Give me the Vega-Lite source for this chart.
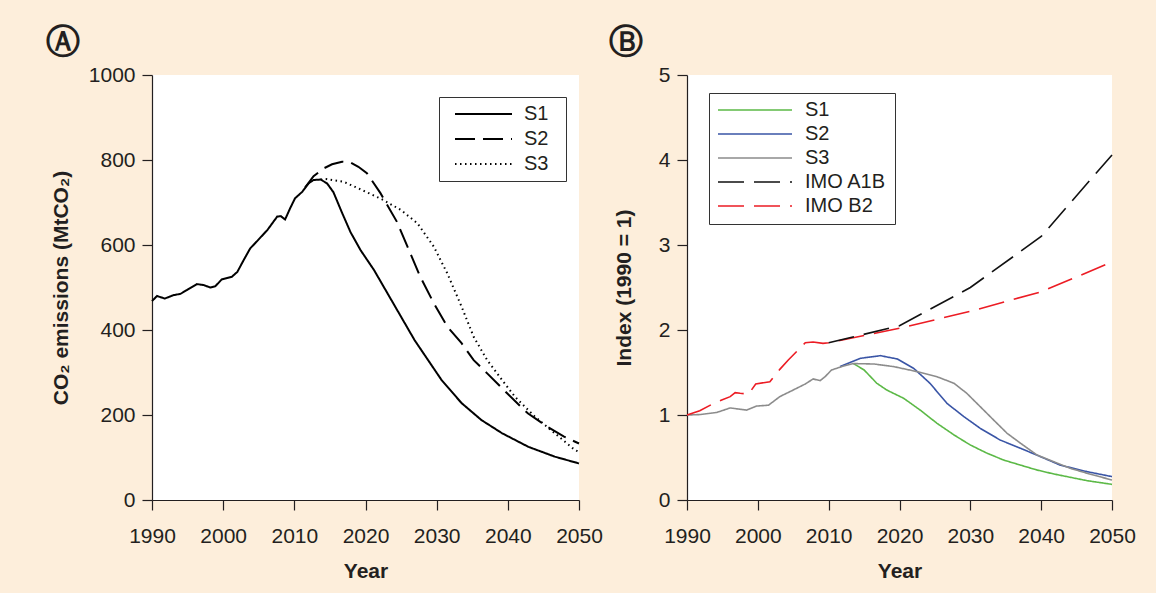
{
  "$schema": "https://vega.github.io/schema/vega-lite/v6.json",
  "background": "#fdeedb",
  "padding": {"left": 46, "top": 26, "right": 20, "bottom": 12},
  "spacing": 6,
  "config": {
    "view": {"fill": "white", "stroke": null},
    "font": "Liberation Sans",
    "axis": {
      "domainColor": "#231f20", "tickColor": "#231f20", "labelColor": "#231f20", "titleColor": "#231f20",
      "labelFont": "Liberation Sans", "titleFont": "Liberation Sans",
      "labelFontSize": 21, "titleFontSize": 21, "titleFontWeight": "bold",
      "tickSize": 10, "grid": false, "labelFlush": false, "labelOverlap": false, "domainWidth": 1.2, "tickWidth": 1.2
    },
    "legend": {
      "labelFont": "Liberation Sans", "labelFontSize": 20, "labelColor": "#231f20",
      "strokeColor": "#333333", "fillColor": "white", "symbolType": "stroke"
    },
    "title": {"anchor": "start", "frame": "bounds", "font": "DejaVu Sans", "fontSize": 34, "fontWeight": "bold", "color": "#231f20", "offset": 10, "dx": -4, "dy": 6}
  },
  "datasets": {
    "a": [
      {"series": "S1", "year": 1990, "value": 468},
      {"series": "S1", "year": 1990.7, "value": 480},
      {"series": "S1", "year": 1991.8, "value": 474},
      {"series": "S1", "year": 1993, "value": 482},
      {"series": "S1", "year": 1994, "value": 485},
      {"series": "S1", "year": 1994.9, "value": 494},
      {"series": "S1", "year": 1996.3, "value": 508},
      {"series": "S1", "year": 1997.2, "value": 506},
      {"series": "S1", "year": 1998.2, "value": 500},
      {"series": "S1", "year": 1998.9, "value": 503},
      {"series": "S1", "year": 1999.8, "value": 519},
      {"series": "S1", "year": 2001.2, "value": 525},
      {"series": "S1", "year": 2002, "value": 537},
      {"series": "S1", "year": 2002.9, "value": 565},
      {"series": "S1", "year": 2003.8, "value": 592},
      {"series": "S1", "year": 2004.7, "value": 608},
      {"series": "S1", "year": 2006.2, "value": 635},
      {"series": "S1", "year": 2007.6, "value": 667},
      {"series": "S1", "year": 2008.1, "value": 668},
      {"series": "S1", "year": 2008.7, "value": 660},
      {"series": "S1", "year": 2009.4, "value": 686},
      {"series": "S1", "year": 2010.1, "value": 710},
      {"series": "S1", "year": 2011.1, "value": 725},
      {"series": "S1", "year": 2012, "value": 745},
      {"series": "S1", "year": 2012.7, "value": 753},
      {"series": "S1", "year": 2013.7, "value": 754},
      {"series": "S1", "year": 2014.6, "value": 745},
      {"series": "S1", "year": 2015.5, "value": 724},
      {"series": "S1", "year": 2016.7, "value": 676},
      {"series": "S1", "year": 2017.9, "value": 630},
      {"series": "S1", "year": 2019.3, "value": 588},
      {"series": "S1", "year": 2021.2, "value": 541},
      {"series": "S1", "year": 2023.1, "value": 486},
      {"series": "S1", "year": 2025, "value": 431},
      {"series": "S1", "year": 2026.9, "value": 376},
      {"series": "S1", "year": 2028.8, "value": 329},
      {"series": "S1", "year": 2030.7, "value": 282},
      {"series": "S1", "year": 2033.5, "value": 228},
      {"series": "S1", "year": 2036.3, "value": 188},
      {"series": "S1", "year": 2039.2, "value": 157},
      {"series": "S1", "year": 2042.9, "value": 125},
      {"series": "S1", "year": 2046.6, "value": 102},
      {"series": "S1", "year": 2050, "value": 86},
      {"series": "S2", "year": 2011.5, "value": 735},
      {"series": "S2", "year": 2012.7, "value": 762},
      {"series": "S2", "year": 2014.1, "value": 780},
      {"series": "S2", "year": 2015.3, "value": 790},
      {"series": "S2", "year": 2016.7, "value": 796},
      {"series": "S2", "year": 2017.9, "value": 794},
      {"series": "S2", "year": 2019, "value": 784},
      {"series": "S2", "year": 2020.2, "value": 769},
      {"series": "S2", "year": 2022.1, "value": 722},
      {"series": "S2", "year": 2024.4, "value": 655},
      {"series": "S2", "year": 2025.9, "value": 596},
      {"series": "S2", "year": 2027.7, "value": 525},
      {"series": "S2", "year": 2029.6, "value": 463},
      {"series": "S2", "year": 2031.5, "value": 408},
      {"series": "S2", "year": 2033.5, "value": 369},
      {"series": "S2", "year": 2035.2, "value": 329},
      {"series": "S2", "year": 2037.1, "value": 298},
      {"series": "S2", "year": 2039.9, "value": 251},
      {"series": "S2", "year": 2042.8, "value": 204},
      {"series": "S2", "year": 2045.6, "value": 172},
      {"series": "S2", "year": 2047.9, "value": 149},
      {"series": "S2", "year": 2050, "value": 133},
      {"series": "S3", "year": 2013.7, "value": 754},
      {"series": "S3", "year": 2014.6, "value": 755},
      {"series": "S3", "year": 2016.9, "value": 749},
      {"series": "S3", "year": 2019.3, "value": 731},
      {"series": "S3", "year": 2022.5, "value": 706},
      {"series": "S3", "year": 2025, "value": 682},
      {"series": "S3", "year": 2027.3, "value": 651},
      {"series": "S3", "year": 2029.6, "value": 596},
      {"series": "S3", "year": 2031.5, "value": 533},
      {"series": "S3", "year": 2033.5, "value": 455},
      {"series": "S3", "year": 2035.2, "value": 384},
      {"series": "S3", "year": 2037.1, "value": 329},
      {"series": "S3", "year": 2039.2, "value": 282},
      {"series": "S3", "year": 2041, "value": 243},
      {"series": "S3", "year": 2043.8, "value": 196},
      {"series": "S3", "year": 2046.6, "value": 157},
      {"series": "S3", "year": 2049.4, "value": 118},
      {"series": "S3", "year": 2050, "value": 113}
    ],
    "b": [
      {"series": "S1", "year": 2013.5, "value": 1.605},
      {"series": "S1", "year": 2015, "value": 1.53},
      {"series": "S1", "year": 2016.8, "value": 1.373},
      {"series": "S1", "year": 2018.2, "value": 1.294},
      {"series": "S1", "year": 2020.6, "value": 1.196},
      {"series": "S1", "year": 2022.9, "value": 1.059},
      {"series": "S1", "year": 2025.3, "value": 0.902},
      {"series": "S1", "year": 2027.7, "value": 0.765},
      {"series": "S1", "year": 2030, "value": 0.647},
      {"series": "S1", "year": 2032.4, "value": 0.549},
      {"series": "S1", "year": 2034.7, "value": 0.47},
      {"series": "S1", "year": 2037.1, "value": 0.41},
      {"series": "S1", "year": 2039.4, "value": 0.353},
      {"series": "S1", "year": 2041.8, "value": 0.306},
      {"series": "S1", "year": 2046.5, "value": 0.227},
      {"series": "S1", "year": 2050, "value": 0.184},
      {"series": "S2", "year": 2011.6, "value": 1.57},
      {"series": "S2", "year": 2014.5, "value": 1.667},
      {"series": "S2", "year": 2017.3, "value": 1.698},
      {"series": "S2", "year": 2019.7, "value": 1.659},
      {"series": "S2", "year": 2022, "value": 1.549},
      {"series": "S2", "year": 2024.3, "value": 1.373},
      {"series": "S2", "year": 2026.7, "value": 1.137},
      {"series": "S2", "year": 2029.1, "value": 0.98},
      {"series": "S2", "year": 2031.4, "value": 0.843},
      {"series": "S2", "year": 2034.2, "value": 0.706},
      {"series": "S2", "year": 2037.1, "value": 0.608},
      {"series": "S2", "year": 2039.9, "value": 0.51},
      {"series": "S2", "year": 2042.7, "value": 0.41},
      {"series": "S2", "year": 2046.5, "value": 0.333},
      {"series": "S2", "year": 2050, "value": 0.275},
      {"series": "S3", "year": 1990, "value": 1.0},
      {"series": "S3", "year": 1991.8, "value": 1.005},
      {"series": "S3", "year": 1994.2, "value": 1.03},
      {"series": "S3", "year": 1996.1, "value": 1.083},
      {"series": "S3", "year": 1997.3, "value": 1.07},
      {"series": "S3", "year": 1998.4, "value": 1.058},
      {"series": "S3", "year": 1999.8, "value": 1.105},
      {"series": "S3", "year": 2001.5, "value": 1.115},
      {"series": "S3", "year": 2003.1, "value": 1.216},
      {"series": "S3", "year": 2005, "value": 1.294},
      {"series": "S3", "year": 2006.7, "value": 1.365},
      {"series": "S3", "year": 2007.8, "value": 1.424},
      {"series": "S3", "year": 2008.8, "value": 1.404},
      {"series": "S3", "year": 2009.5, "value": 1.451},
      {"series": "S3", "year": 2010.4, "value": 1.529},
      {"series": "S3", "year": 2012.1, "value": 1.576},
      {"series": "S3", "year": 2013.5, "value": 1.605},
      {"series": "S3", "year": 2016.4, "value": 1.6},
      {"series": "S3", "year": 2019.2, "value": 1.569},
      {"series": "S3", "year": 2022.5, "value": 1.51},
      {"series": "S3", "year": 2025.3, "value": 1.45},
      {"series": "S3", "year": 2027.7, "value": 1.373},
      {"series": "S3", "year": 2029.5, "value": 1.255},
      {"series": "S3", "year": 2031.4, "value": 1.098},
      {"series": "S3", "year": 2033.3, "value": 0.94},
      {"series": "S3", "year": 2035.2, "value": 0.784},
      {"series": "S3", "year": 2037.1, "value": 0.667},
      {"series": "S3", "year": 2039.4, "value": 0.53},
      {"series": "S3", "year": 2041.8, "value": 0.45},
      {"series": "S3", "year": 2044.1, "value": 0.373},
      {"series": "S3", "year": 2046.5, "value": 0.314},
      {"series": "S3", "year": 2050, "value": 0.235},
      {"series": "IMO B2", "year": 1990, "value": 1.0},
      {"series": "IMO B2", "year": 1991.8, "value": 1.05},
      {"series": "IMO B2", "year": 1993.5, "value": 1.125},
      {"series": "IMO B2", "year": 1994.9, "value": 1.176},
      {"series": "IMO B2", "year": 1996.1, "value": 1.216},
      {"series": "IMO B2", "year": 1996.8, "value": 1.263},
      {"series": "IMO B2", "year": 1997.5, "value": 1.255},
      {"series": "IMO B2", "year": 1998.7, "value": 1.247},
      {"series": "IMO B2", "year": 1999.7, "value": 1.365},
      {"series": "IMO B2", "year": 2001.7, "value": 1.392},
      {"series": "IMO B2", "year": 2003.1, "value": 1.537},
      {"series": "IMO B2", "year": 2004.3, "value": 1.647},
      {"series": "IMO B2", "year": 2006.7, "value": 1.851},
      {"series": "IMO B2", "year": 2007.8, "value": 1.859},
      {"series": "IMO B2", "year": 2009.2, "value": 1.843},
      {"series": "IMO B2", "year": 2010, "value": 1.85},
      {"series": "IMO B2", "year": 2020, "value": 2.02},
      {"series": "IMO B2", "year": 2030, "value": 2.22},
      {"series": "IMO B2", "year": 2040, "value": 2.45},
      {"series": "IMO B2", "year": 2050, "value": 2.8},
      {"series": "IMO A1B", "year": 2010, "value": 1.85},
      {"series": "IMO A1B", "year": 2020, "value": 2.05},
      {"series": "IMO A1B", "year": 2030, "value": 2.5},
      {"series": "IMO A1B", "year": 2040, "value": 3.1},
      {"series": "IMO A1B", "year": 2050, "value": 4.06}
    ]
  },
  "resolve": {
    "scale": {"x": "independent", "y": "independent", "strokeDash": "independent", "color": "independent"},
    "legend": {"strokeDash": "independent", "color": "independent"}
  },
  "hconcat": [
    {
      "title": {"text": "Ⓐ"},
      "width": 427,
      "height": 425,
      "data": {"name": "a"},
      "mark": {"type": "line", "strokeWidth": 2, "color": "black"},
      "encoding": {
        "x": {
          "field": "year", "type": "quantitative",
          "scale": {"domain": [1990, 2050], "nice": false, "zero": false},
          "axis": {"values": [1990, 2000, 2010, 2020, 2030, 2040, 2050], "format": "d", "title": "Year", "labelPadding": 15, "titlePadding": 14}
        },
        "y": {
          "field": "value", "type": "quantitative",
          "scale": {"domain": [0, 1000], "nice": false},
          "axis": {"values": [0, 200, 400, 600, 800, 1000], "format": "d", "title": "CO₂ emissions (MtCO₂)", "labelPadding": 7, "titlePadding": 17}
        },
        "strokeDash": {
          "field": "series", "type": "nominal",
          "scale": {"domain": ["S1", "S2", "S3"], "range": [[1, 0], [20, 8], [1.5, 3.5]]},
          "legend": {
            "title": null, "orient": "none", "legendX": 287, "legendY": 22,
            "symbolSize": 3249, "symbolStrokeWidth": 1.8, "symbolStrokeColor": "black", "symbolOffset": 8,
            "clipHeight": 20, "rowPadding": 5, "padding": 7, "labelOffset": 11,
            "labelExpr": "datum.label + '\u2002\u200b'"
          }
        }
      }
    },
    {
      "title": {"text": "Ⓑ"},
      "width": 425,
      "height": 425,
      "data": {"name": "b"},
      "mark": {"type": "line", "strokeWidth": 1.6},
      "encoding": {
        "x": {
          "field": "year", "type": "quantitative",
          "scale": {"domain": [1990, 2050], "nice": false, "zero": false},
          "axis": {"values": [1990, 2000, 2010, 2020, 2030, 2040, 2050], "format": "d", "title": "Year", "labelPadding": 15, "titlePadding": 14}
        },
        "y": {
          "field": "value", "type": "quantitative",
          "scale": {"domain": [0, 5], "nice": false},
          "axis": {"values": [0, 1, 2, 3, 4, 5], "format": "d", "title": "Index (1990 = 1)", "labelPadding": 7, "titlePadding": 24}
        },
        "color": {
          "field": "series", "type": "nominal",
          "scale": {"domain": ["S1", "S2", "S3", "IMO A1B", "IMO B2"], "range": ["#5cb947", "#3a55a6", "#8c8c8c", "#111111", "#ec1c24"]},
          "legend": {
            "title": null, "orient": "none", "legendX": 22, "legendY": 18,
            "symbolSize": 5476, "symbolStrokeWidth": 1.6,
            "clipHeight": 18, "rowPadding": 4, "padding": 8, "labelOffset": 12
          }
        },
        "strokeDash": {
          "field": "series", "type": "nominal",
          "scale": {"domain": ["S1", "S2", "S3", "IMO A1B", "IMO B2"], "range": [[1, 0], [1, 0], [1, 0], [26, 10], [26, 10]]},
          "legend": {
            "title": null, "orient": "none", "legendX": 22, "legendY": 18,
            "symbolSize": 5476, "symbolStrokeWidth": 1.6,
            "clipHeight": 18, "rowPadding": 4, "padding": 8, "labelOffset": 12
          }
        }
      }
    }
  ]
}
